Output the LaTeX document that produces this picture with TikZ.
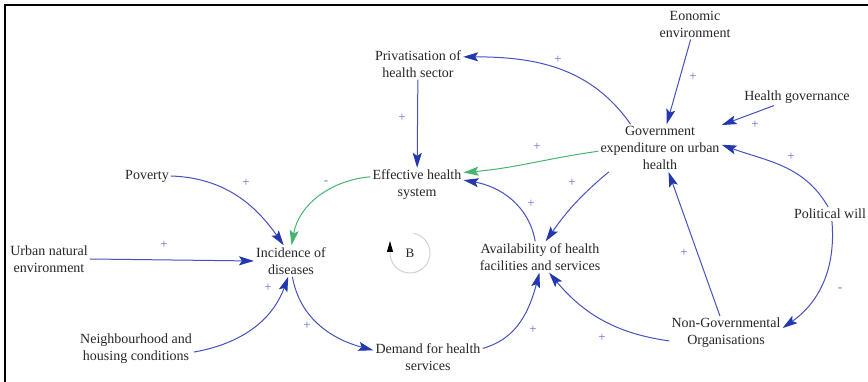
\documentclass[tikz,border=0pt]{standalone}
\usepackage{fontspec}
\setmainfont{Liberation Serif}
\usepackage{xcolor}
\usetikzlibrary{arrows.meta}

\definecolor{linkblue}{RGB}{70,80,190}
\definecolor{tipblue}{RGB}{35,55,175}
\definecolor{signblue}{RGB}{100,110,205}
\definecolor{linkgreen}{RGB}{70,180,110}

\begin{document}
\begin{tikzpicture}[x=1pt, y=1pt,
	var/.style={align=center, inner sep=2pt, text=black!85, font=\fontsize{14}{17}\selectfont},
	sign/.style={inner sep=0pt, text=signblue, font=\fontsize{13}{13}\selectfont},
	link/.style={-{Stealth[length=15pt,width=9pt,inset=3pt,color=tipblue]}, line width=1pt, draw=linkblue},
	neglink/.style={-{Stealth[length=15pt,width=9pt,inset=3pt]}, line width=1pt, draw=linkgreen}
]

	\useasboundingbox (0, 0) rectangle (868, 382);

	% frame
	\draw [line width=2pt] (4, 377) -- (868, 377);
	\draw [line width=2pt] (5, 0) -- (5, 377);

	% variables
	\node [var] (priv) at (418, 318) {Privatisation of\\health sector};
	\node [var] (econ) at (695, 358) {Eonomic\\environment};
	\node [var] (hgov) at (797, 285) {Health governance};
	\node [var] (gov) at (660, 234) {Government\\expenditure on urban\\health};
	\node [var] (pov) at (147, 206) {Poverty};
	\node [var] (eff) at (417, 197) {Effective health\\system};
	\node [var] (pol) at (830, 168) {Political will};
	\node [var] (urb) at (49, 123) {Urban natural\\environment};
	\node [var] (inc) at (291, 121) {Incidence of\\diseases};
	\node [var] (avail) at (540, 125) {Availability of health\\facilities and services};
	\node [var] (neigh) at (136, 33) {Neighbourhood and\\housing conditions};
	\node [var] (dem) at (428, 25) {Demand for health\\services};
	\node [var] (ngo) at (726, 49) {Non-Governmental\\Organisations};

	% links
	\draw [link] (gov.141) to[out=125, in=0] (priv.9);
	\draw [link] (econ) -- (gov);
	\draw [link] (hgov) -- (gov);
	\draw [link] (pol.105) to[out=120, in=-20] (gov.3);
	\draw [link] (pol.-75) to[out=-85, in=35] (ngo.5);
	\draw [link] (ngo) -- (gov);
	\draw [link] (ngo.188) to[out=172, in=-50] (avail.-60);
	\draw [link] (dem.9) to[out=15, in=-105] (avail.-92);
	\draw [link] (gov.-155) to[out=220, in=55] (avail.70);
	\draw [link] (avail.107) to[out=100, in=-10] (eff.6);
	\draw [neglink] (gov.183) to[out=188, in=5] (eff.15);
	\draw [link] (priv) -- (eff);
	\draw [neglink] (eff.170) to[out=185, in=80] (inc.88);
	\draw [link] (pov.east) to[out=-2, in=125] (inc.115);
	\draw [link] (urb.east) -- (inc.west);
	\draw [link] (neigh.-3) to[out=10, in=-110] (inc.-100);
	\draw [link] (inc.-85) to[out=-80, in=165] (dem.173);

	% polarities
	\node [sign] (s1) at (558, 322) {+};
	\node [sign] (s2) at (693, 305) {+};
	\node [sign] (s3) at (755, 257) {+};
	\node [sign] (s4) at (791, 225) {+};
	\node [sign] (s5) at (840, 92) {-};
	\node [sign] (s6) at (684, 129) {+};
	\node [sign] (s7) at (602, 44) {+};
	\node [sign] (s8) at (533, 52) {+};
	\node [sign] (s9) at (572, 199) {+};
	\node [sign] (s10) at (531, 178) {+};
	\node [sign] (s11) at (537, 235) {+};
	\node [sign] (s12) at (402, 264) {+};
	\node [sign] (s13) at (326, 199) {-};
	\node [sign] (s14) at (246, 199) {+};
	\node [sign] (s15) at (164, 137) {+};
	\node [sign] (s16) at (268, 94) {+};
	\node [sign] (s17) at (307, 56) {+};

	% balancing loop
	\node [font=\fontsize{13}{13}\selectfont, text=black!85] (loop) at (410, 129) {B};
	\draw [gray!35, line width=1pt, -{Triangle[black, length=11pt, width=6pt]}]
		(loop.center) ++(80:20) arc[start angle=80, end angle=-180, radius=20] -- ++(0, 12);

\end{tikzpicture}
\end{document}
